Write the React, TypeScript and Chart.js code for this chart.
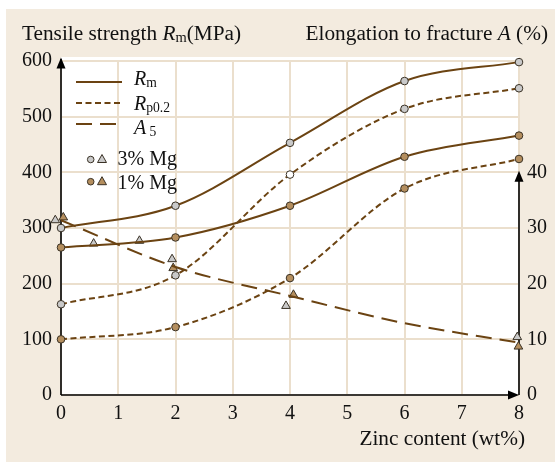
import React, { useEffect, useRef } from "react";
import { Chart, registerables } from "chart.js";

Chart.register(...registerables);

// ---- data ----
const zinc = [0, 2, 4, 6, 8];
const rm3 = [300, 340, 453, 564, 598];
const rp3 = [163, 215, 396, 514, 551];
const rm1 = [265, 283, 340, 428, 466];
const rp1 = [100, 122, 210, 371, 424];
const a5FitZinc = [0, 2, 4, 6, 8];
const a5Fit = [31.4, 23.0, 17.8, 12.9, 9.4];
const a3Zinc = [-0.1, 0.57, 1.37, 1.94, 3.93, 7.97];
const a3Val = [31.4, 27.2, 27.7, 24.4, 16.0, 10.4];
const a1Zinc = [0.04, 1.96, 4.06, 7.99];
const a1Val = [31.9, 22.8, 18.0, 8.7];
const xTicks = [0, 1, 2, 3, 4, 5, 6, 7, 8];
const leftTicks = [0, 100, 200, 300, 400, 500, 600];
const rightTicks = [0, 10, 20, 30, 40];

const FONT = "'Liberation Serif', 'Times New Roman', serif";
const FS = 20; // ticks & legend
const TS = 21.3; // axis titles
const BROWN = "#6b4312";
const GRAY = "#c9c9c9";
const TAN = "#b48e5e";
const EDGE = "#3a3226";
const GRID = "#ebdfcd";
const BEIGE = "#f3ebdf";

type Run = { t: string; italic?: boolean; sub?: boolean };

function runWidth(ctx: CanvasRenderingContext2D, runs: Run[], size: number) {
  let w = 0;
  for (const r of runs) {
    const s = r.sub ? size * 0.68 : size;
    ctx.font = `${r.italic ? "italic " : ""}${s}px ${FONT}`;
    w += ctx.measureText(r.t).width;
  }
  return w;
}

function drawRuns(ctx: CanvasRenderingContext2D, x: number, y: number, runs: Run[], size: number) {
  ctx.save();
  ctx.fillStyle = "#111";
  ctx.textBaseline = "alphabetic";
  ctx.textAlign = "left";
  let cx = x;
  for (const r of runs) {
    const s = r.sub ? size * 0.68 : size;
    ctx.font = `${r.italic ? "italic " : ""}${s}px ${FONT}`;
    ctx.fillText(r.t, cx, r.sub ? y + size * 0.12 : y);
    cx += ctx.measureText(r.t).width;
  }
  ctx.restore();
}

function arrowHead(ctx: CanvasRenderingContext2D, tx: number, ty: number, dir: "up" | "right") {
  const len = 11, half = 4.5;
  ctx.beginPath();
  if (dir === "up") {
    ctx.moveTo(tx, ty);
    ctx.lineTo(tx - half, ty + len);
    ctx.lineTo(tx + half, ty + len);
  } else {
    ctx.moveTo(tx, ty);
    ctx.lineTo(tx - len, ty - half);
    ctx.lineTo(tx - len, ty + half);
  }
  ctx.closePath();
  ctx.fill();
}

const decor = {
  id: "decor",
  beforeDraw(chart: any) {
    const ctx = chart.ctx as CanvasRenderingContext2D;
    const a = chart.chartArea;
    ctx.save();
    ctx.fillStyle = "#ffffff";
    ctx.fillRect(0, 0, chart.width, chart.height);
    ctx.fillStyle = BEIGE;
    ctx.fillRect(6, 9, chart.width - 6, chart.height - 10);
    ctx.fillStyle = "#ffffff";
    ctx.fillRect(a.left, a.top - 4, a.right - a.left, a.bottom - a.top + 4);
    ctx.restore();
  },
  beforeDatasetsDraw(chart: any) {
    const ctx = chart.ctx as CanvasRenderingContext2D;
    const a = chart.chartArea;
    const y1 = chart.scales.y1;
    ctx.save();
    ctx.strokeStyle = "#000";
    ctx.fillStyle = "#000";
    ctx.lineWidth = 1.6;
    // left axis
    ctx.beginPath();
    ctx.moveTo(a.left, a.bottom);
    ctx.lineTo(a.left, a.top - 2);
    ctx.stroke();
    arrowHead(ctx, a.left, a.top - 3.5, "up");
    // bottom axis
    ctx.beginPath();
    ctx.moveTo(a.left, a.bottom);
    ctx.lineTo(a.right - 6, a.bottom);
    ctx.stroke();
    arrowHead(ctx, a.right, a.bottom, "right");
    // right axis (0..40)
    const top40 = y1.getPixelForValue(rightTicks[rightTicks.length - 1]);
    ctx.beginPath();
    ctx.moveTo(a.right, a.bottom);
    ctx.lineTo(a.right, top40 + 6);
    ctx.stroke();
    arrowHead(ctx, a.right, top40 - 1.5, "up");
    ctx.restore();
  },
  afterDraw(chart: any) {
    const ctx = chart.ctx as CanvasRenderingContext2D;
    // axis titles
    drawRuns(ctx, 22, 39.5, [
      { t: "Tensile strength " },
      { t: "R", italic: true },
      { t: "m", sub: true },
      { t: "(MPa)" },
    ], TS);
    const elong: Run[] = [
      { t: "Elongation to fracture " },
      { t: "A", italic: true },
      { t: " (%)" },
    ];
    drawRuns(ctx, 548 - runWidth(ctx, elong, TS), 39.5, elong, TS);
    const zc: Run[] = [{ t: "Zinc content (wt%)" }];
    drawRuns(ctx, 525 - runWidth(ctx, zc, TS), 445, zc, TS);

    // legend
    ctx.save();
    ctx.strokeStyle = BROWN;
    ctx.lineWidth = 2;
    const lx0 = 76, lx1 = 122;
    ctx.setLineDash([]);
    ctx.beginPath(); ctx.moveTo(lx0, 82); ctx.lineTo(lx1, 82); ctx.stroke();
    ctx.setLineDash([6, 3.5]);
    ctx.beginPath(); ctx.moveTo(lx0, 103); ctx.lineTo(lx1, 103); ctx.stroke();
    ctx.setLineDash([16, 8]);
    ctx.beginPath(); ctx.moveTo(lx0, 124); ctx.lineTo(lx1, 124); ctx.stroke();
    ctx.setLineDash([]);
    // markers
    const mk = (cy: number, fill: string) => {
      ctx.fillStyle = fill;
      ctx.strokeStyle = EDGE;
      ctx.lineWidth = 1;
      ctx.beginPath(); ctx.arc(90.7, cy, 3.3, 0, Math.PI * 2); ctx.fill(); ctx.stroke();
      ctx.beginPath();
      ctx.moveTo(102, cy - 5); ctx.lineTo(106.5, cy + 3); ctx.lineTo(97.5, cy + 3); ctx.closePath();
      ctx.fill(); ctx.stroke();
    };
    mk(159.5, GRAY);
    mk(181.7, TAN);
    ctx.restore();
    drawRuns(ctx, 134, 85, [{ t: "R", italic: true }, { t: "m", sub: true }], FS);
    drawRuns(ctx, 134, 109.5, [{ t: "R", italic: true }, { t: "p0.2", sub: true }], FS);
    drawRuns(ctx, 134, 134, [{ t: "A", italic: true }, { t: " 5", sub: true }], FS);
    drawRuns(ctx, 117.5, 164.5, [{ t: "3% Mg" }], FS);
    drawRuns(ctx, 117.5, 188.5, [{ t: "1% Mg" }], FS);
  },
};

function pts(xs: number[], ys: number[]) {
  return xs.map((x, i) => ({ x, y: ys[i] }));
}

export default function App() {
  const ref = useRef<HTMLCanvasElement | null>(null);
  useEffect(() => {
    if (!ref.current) return;
    const tickFont = { family: FONT, size: FS };
    const lineBase = {
      borderColor: BROWN,
      borderWidth: 2,
      cubicInterpolationMode: "monotone" as const,
      pointRadius: 3.8,
      pointBorderColor: EDGE,
      pointBorderWidth: 1,
      clip: false as const,
    };
    const chart = new Chart(ref.current, {
      type: "line",
      data: {
        datasets: [
          { ...lineBase, label: "Rm 3% Mg", data: pts(zinc, rm3), pointBackgroundColor: GRAY, yAxisID: "y" },
          {
            ...lineBase, label: "Rp0.2 3% Mg", data: pts(zinc, rp3), borderDash: [6, 3.5],
            pointBackgroundColor: zinc.map((z) => (z === 4 ? "#ffffff" : GRAY)), yAxisID: "y",
          },
          { ...lineBase, label: "Rm 1% Mg", data: pts(zinc, rm1), pointBackgroundColor: TAN, yAxisID: "y" },
          { ...lineBase, label: "Rp0.2 1% Mg", data: pts(zinc, rp1), borderDash: [6, 3.5], pointBackgroundColor: TAN, yAxisID: "y" },
          { ...lineBase, label: "A5", data: pts(a5FitZinc, a5Fit), borderDash: [16, 8], pointRadius: 0, yAxisID: "y1" },
          {
            label: "A5 3% Mg", data: pts(a3Zinc, a3Val), showLine: false, pointStyle: "triangle",
            pointRadius: 5, pointBackgroundColor: GRAY, pointBorderColor: EDGE, pointBorderWidth: 1, yAxisID: "y1", clip: false,
          },
          {
            label: "A5 1% Mg", data: pts(a1Zinc, a1Val), showLine: false, pointStyle: "triangle",
            pointRadius: 5, pointBackgroundColor: TAN, pointBorderColor: EDGE, pointBorderWidth: 1, yAxisID: "y1", clip: false,
          },
        ],
      },
      options: {
        responsive: false,
        animation: false,
        events: [],
        layout: { padding: { top: 61, left: 0, right: 0, bottom: 0 } },
        plugins: { legend: { display: false }, tooltip: { enabled: false }, title: { display: false } },
        scales: {
          x: {
            type: "linear", min: 0, max: 8, position: "bottom",
            grid: { color: GRID, lineWidth: 2, drawTicks: false },
            border: { display: false },
            ticks: { font: tickFont, color: "#111", padding: 7, maxRotation: 0 },
            afterBuildTicks: (s: any) => { s.ticks = xTicks.map((v) => ({ value: v })); },
            afterFit: (s: any) => { s.height = 68; },
          },
          y: {
            type: "linear", min: 0, max: 600, position: "left",
            grid: { color: GRID, lineWidth: 2, drawTicks: false },
            border: { display: false },
            ticks: { font: tickFont, color: "#111", padding: 9 },
            afterBuildTicks: (s: any) => { s.ticks = leftTicks.map((v) => ({ value: v })); },
            afterFit: (s: any) => { s.width = 61; },
          },
          y1: {
            type: "linear", min: 0, max: 60, position: "right",
            grid: { display: false, drawTicks: false },
            border: { display: false },
            ticks: { font: tickFont, color: "#111", padding: 8 },
            afterBuildTicks: (s: any) => { s.ticks = rightTicks.map((v) => ({ value: v })); },
            afterFit: (s: any) => { s.width = 36; },
          },
        },
      },
      plugins: [decor],
    } as any);
    return () => chart.destroy();
  }, []);
  return (
    <div style={{ position: "absolute", left: 0, top: 0, width: 555, height: 463 }}>
      <canvas ref={ref} width={555} height={463} style={{ display: "block" }} />
    </div>
  );
}
